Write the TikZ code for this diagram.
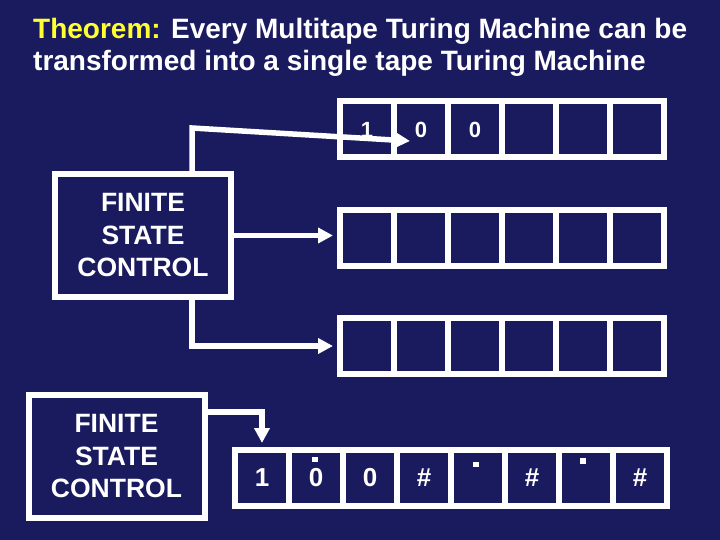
\documentclass[tikz,border=0pt]{standalone}
\usepackage{fontspec}
\setmainfont{Liberation Sans}
\usetikzlibrary{arrows.meta}
\definecolor{bg}{RGB}{26,26,94}
\definecolor{ttl}{RGB}{255,255,51}
\begin{document}
\begin{tikzpicture}[x=1pt,y=-1pt,
  cell/.style={draw=white, line width=6pt, minimum width=54pt, minimum height=56pt, inner sep=0pt, text=white, font=\bfseries\fontsize{22}{26}\selectfont},
  bigcell/.style={cell, font=\bfseries\fontsize{26}{30}\selectfont},
  fsc/.style={draw=white, line width=6pt, minimum width=176pt, minimum height=123pt, inner sep=0pt, align=center, text=white, font=\bfseries\fontsize{26.5}{32.5}\selectfont},
  conn/.style={draw=white, line width=5.5pt, -{Triangle[length=15pt,width=15pt]}},
  dotmark/.style={fill=white, minimum size=5.5pt, inner sep=0pt},
  ttlfont/.style={font=\bfseries\fontsize{28}{32}\selectfont, text=white, inner sep=0pt, anchor=base west}]
\fill[bg] (0,0) rectangle (720,540);
\useasboundingbox (0,0) rectangle (720,540);
% title
\node[ttlfont] (title1) at (33,39) {\textcolor{ttl}{Theorem:} Every Multitape Turing Machine can be};
\node[ttlfont] (title2) at (33,71) {transformed into a single tape Turing Machine};
% multitape machine
\node[fsc] (fsc1) at (143,235.5) {FINITE\\STATE\\CONTROL};
\foreach \i/\t in {1/1,2/0,3/0,4/,5/,6/}
  \node[cell] (t1c\i) at ({313+54*\i},129.5) {\t};
\foreach \i in {1,...,6}
  \node[cell] (t2c\i) at ({313+54*\i},238) {};
\foreach \i in {1,...,6}
  \node[cell] (t3c\i) at ({313+54*\i},346) {};
\coordinate (bend1) at (192,128);
\coordinate (head1) at (410,141);
\draw[conn] (fsc1.north -| bend1) -- (bend1) -- (head1);
\draw[conn, shorten >=4pt] (fsc1.east) -- (fsc1.east -| t2c1.west);
\draw[conn, shorten >=4pt] (fsc1.south -| bend1) |- (t3c1.west);
% single tape machine
\node[fsc] (fsc2) at (116.5,456.5) {FINITE\\STATE\\CONTROL};
\foreach \i/\t in {1/1,2/0,3/0,4/\#,5/,6/\#,7/,8/\#}
  \node[bigcell] (t4c\i) at ({208+54*\i},478) {\t};
\node[dotmark] (d2) at (315,459.5) {};
\node[dotmark] (d5) at (476,464.5) {};
\node[dotmark] (d7) at (583,461) {};
\coordinate (bend4) at (261,412);
\draw[conn, shorten >=4pt] (fsc2.east |- bend4) -| (t4c1.north);
\end{tikzpicture}
\end{document}
